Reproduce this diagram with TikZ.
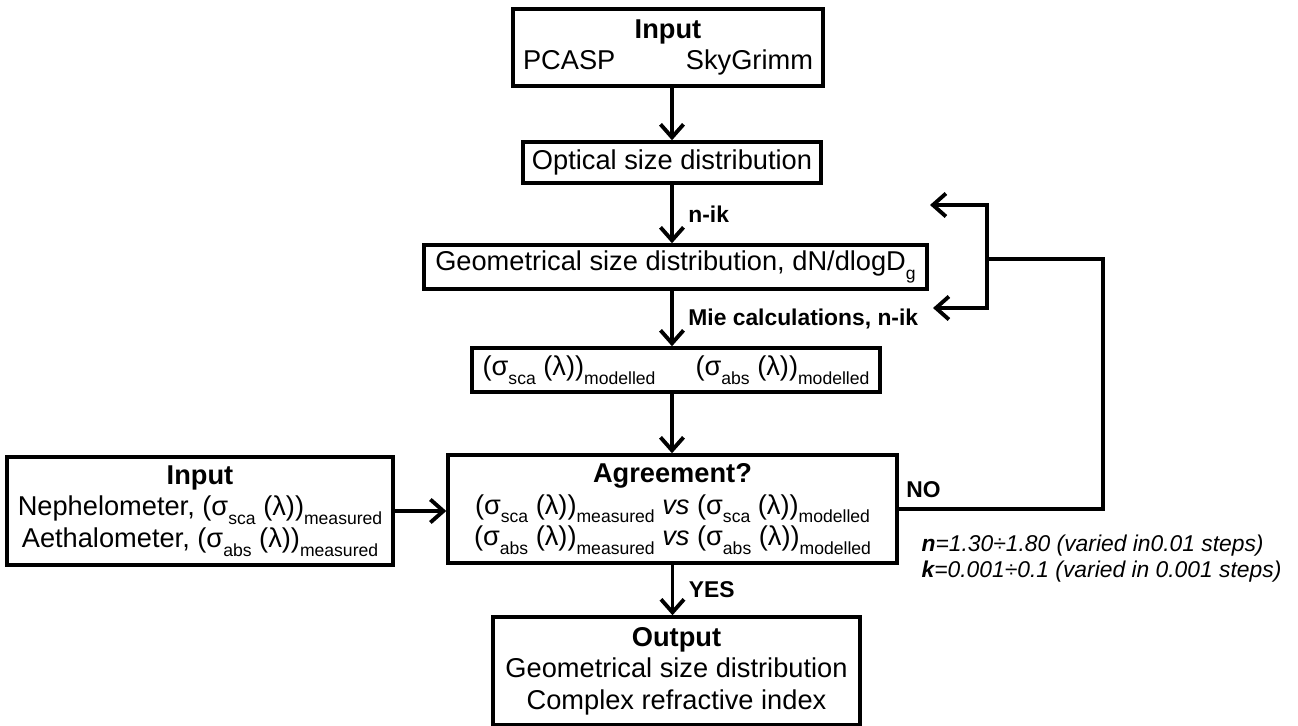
\documentclass[tikz,border=0pt]{standalone}
\usepackage{fontspec}
\setmainfont{Liberation Sans}
\usetikzlibrary{arrows.meta}
\tikzset{every path/.style={line width=2pt},
  box/.style={draw, line width=2pt, align=center, inner sep=0pt, font=\fontsize{15.5}{18}\selectfont},
  flow/.style={line width=2pt, -{Straight Barb[length=2.6mm,width=4.6mm,line width=2.2pt]}},
  lbl/.style={font=\fontsize{13}{15}\selectfont\bfseries},
  loopline/.style={line width=2.6pt}}
\newcommand{\sub}[1]{\raisebox{-0.6ex}{\fontsize{10}{10}\selectfont #1}}
\newcommand{\sig}[2]{(σ\sub{#1} (λ))\sub{#2}}

\begin{document}
\begin{tikzpicture}[x=0.02cm, y=-0.02cm]
    \useasboundingbox (0,0) rectangle (1298,726);

    \node[box, minimum width=6.2cm, minimum height=1.54cm] (in1) at (668,47.5)
      {\textbf{Input}\\ \makebox[5.8cm]{PCASP\hfill SkyGrimm}};
    \node[box, minimum width=5.96cm, minimum height=0.82cm] (opt) at (672,162.5) {Optical size distribution};
    \node[box, minimum width=10.06cm, minimum height=0.88cm] (geo) at (675.5,267) {Geometrical size distribution, dN/dlogD\sub{g}};
    \node[box, minimum width=8.16cm, minimum height=0.88cm] (mod) at (676,370)
      {\sig{sca}{modelled}\hspace{0.8cm}\sig{abs}{modelled}};

    \node[box, minimum width=8.98cm, minimum height=2.16cm] (agr) at (672.5,509)
      {\textbf{Agreement?}\\ \sig{sca}{measured} \textit{vs} \sig{sca}{modelled}\\ \sig{abs}{measured} \textit{vs} \sig{abs}{modelled}};
    \node[box, minimum width=7.72cm, minimum height=2.16cm] (in2) at (200,511)
      {\textbf{Input}\\ Nephelometer, \sig{sca}{measured}\\ Aethalometer, \sig{abs}{measured}};
    \node[box, minimum width=7.34cm, minimum height=2.16cm] (out) at (676.5,671)
      {\textbf{Output}\\ Geometrical size distribution\\ Complex refractive index};

    % main flow
    \draw[flow] (opt.north |- in1.south) -- (opt.north);
    \draw[flow] (opt.south) -- (opt.south |- geo.north)
      node[lbl, midway, right=5pt] {n-ik};
    \draw[flow] (opt.south |- geo.south) -- (opt.south |- mod.north)
      node[lbl, midway, right=5pt] {Mie calculations, n-ik};
    \draw[flow] (opt.south |- mod.south) -- (opt.south |- agr.north);
    \draw[flow] (in2.east) -- (in2.east -| agr.west);
    \draw[flow] (agr.south) -- (agr.south |- out.north)
      node[lbl, midway, right=5pt] {YES};

    % feedback loop
    \coordinate (turn) at (1103,259);
    \coordinate (split) at (987,259);
    \coordinate (upper) at (930,205);
    \coordinate (lower) at (933,308);
    \draw[loopline] (agr.east) -| (turn) -- (split);
    \draw[flow, line width=2.4pt] (split) |- (upper);
    \draw[flow, line width=2.4pt] (split) |- (lower);
    \node[lbl, above right, yshift=2pt] (no) at (agr.east) {NO};

    \node[align=left, anchor=north west, font=\fontsize{13}{15}\selectfont\itshape] (note) at (914,527)
      {\textbf{n}=1.30÷1.80 (varied in0.01 steps)\\ \textbf{k}=0.001÷0.1 (varied in 0.001 steps)};
\end{tikzpicture}
\end{document}
